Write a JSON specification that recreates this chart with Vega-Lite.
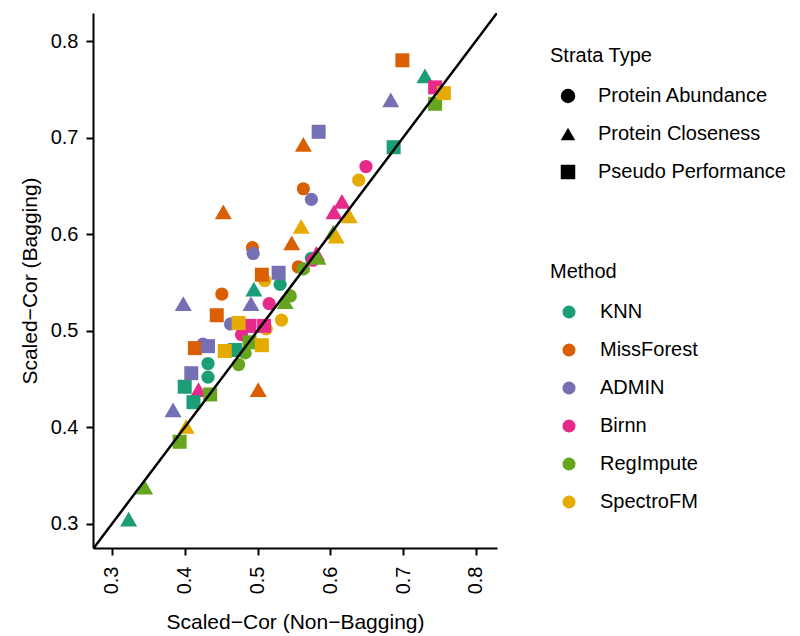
{
  "$schema": "https://vega.github.io/schema/vega-lite/v6.json",
  "width": 404,
  "height": 535,
  "autosize": {"type": "none"},
  "padding": {"left": 93, "top": 13, "right": 303, "bottom": 88},
  "background": "white",
  "config": {
    "font": "Liberation Sans",
    "view": {"stroke": null},
    "axis": {
      "grid": false,
      "domainColor": "black",
      "domainWidth": 2,
      "tickColor": "black",
      "tickWidth": 2,
      "tickSize": 7,
      "labelColor": "black",
      "labelFont": "Liberation Sans",
      "labelFontSize": 20,
      "titleFont": "Liberation Sans",
      "titleFontSize": 21,
      "titleFontWeight": "normal",
      "titleColor": "black"
    },
    "legend": {
      "titleFont": "Liberation Sans",
      "titleFontSize": 20,
      "titleFontWeight": "normal",
      "titleColor": "black",
      "labelFont": "Liberation Sans",
      "labelFontSize": 20,
      "labelColor": "black",
      "labelLimit": 0
    }
  },
  "datasets": {
    "pts": [
      {"method": "KNN", "strata": "Protein Closeness", "x": 0.730, "y": 0.764},
      {"method": "KNN", "strata": "Protein Closeness", "x": 0.495, "y": 0.543},
      {"method": "KNN", "strata": "Protein Closeness", "x": 0.323, "y": 0.305},
      {"method": "KNN", "strata": "Pseudo Performance", "x": 0.687, "y": 0.690},
      {"method": "KNN", "strata": "Pseudo Performance", "x": 0.469, "y": 0.480},
      {"method": "KNN", "strata": "Pseudo Performance", "x": 0.400, "y": 0.442},
      {"method": "KNN", "strata": "Pseudo Performance", "x": 0.412, "y": 0.426},
      {"method": "KNN", "strata": "Protein Abundance", "x": 0.574, "y": 0.575},
      {"method": "KNN", "strata": "Protein Abundance", "x": 0.531, "y": 0.548},
      {"method": "KNN", "strata": "Protein Abundance", "x": 0.432, "y": 0.466},
      {"method": "KNN", "strata": "Protein Abundance", "x": 0.432, "y": 0.452},
      {"method": "MissForest", "strata": "Pseudo Performance", "x": 0.699, "y": 0.780},
      {"method": "MissForest", "strata": "Pseudo Performance", "x": 0.506, "y": 0.558},
      {"method": "MissForest", "strata": "Pseudo Performance", "x": 0.444, "y": 0.516},
      {"method": "MissForest", "strata": "Pseudo Performance", "x": 0.414, "y": 0.482},
      {"method": "MissForest", "strata": "Protein Closeness", "x": 0.563, "y": 0.693},
      {"method": "MissForest", "strata": "Protein Closeness", "x": 0.453, "y": 0.623},
      {"method": "MissForest", "strata": "Protein Closeness", "x": 0.547, "y": 0.591},
      {"method": "MissForest", "strata": "Protein Closeness", "x": 0.501, "y": 0.439},
      {"method": "MissForest", "strata": "Protein Abundance", "x": 0.563, "y": 0.647},
      {"method": "MissForest", "strata": "Protein Abundance", "x": 0.493, "y": 0.586},
      {"method": "MissForest", "strata": "Protein Abundance", "x": 0.556, "y": 0.566},
      {"method": "MissForest", "strata": "Protein Abundance", "x": 0.451, "y": 0.538},
      {"method": "ADMIN", "strata": "Protein Closeness", "x": 0.683, "y": 0.739},
      {"method": "ADMIN", "strata": "Protein Closeness", "x": 0.398, "y": 0.528},
      {"method": "ADMIN", "strata": "Protein Closeness", "x": 0.491, "y": 0.528},
      {"method": "ADMIN", "strata": "Protein Closeness", "x": 0.384, "y": 0.418},
      {"method": "ADMIN", "strata": "Pseudo Performance", "x": 0.584, "y": 0.706},
      {"method": "ADMIN", "strata": "Pseudo Performance", "x": 0.529, "y": 0.560},
      {"method": "ADMIN", "strata": "Pseudo Performance", "x": 0.432, "y": 0.484},
      {"method": "ADMIN", "strata": "Pseudo Performance", "x": 0.409, "y": 0.456},
      {"method": "ADMIN", "strata": "Protein Abundance", "x": 0.574, "y": 0.636},
      {"method": "ADMIN", "strata": "Protein Abundance", "x": 0.494, "y": 0.580},
      {"method": "ADMIN", "strata": "Protein Abundance", "x": 0.463, "y": 0.507},
      {"method": "ADMIN", "strata": "Protein Abundance", "x": 0.425, "y": 0.486},
      {"method": "Birnn", "strata": "Pseudo Performance", "x": 0.744, "y": 0.752},
      {"method": "Birnn", "strata": "Pseudo Performance", "x": 0.489, "y": 0.505},
      {"method": "Birnn", "strata": "Pseudo Performance", "x": 0.509, "y": 0.505},
      {"method": "Birnn", "strata": "Protein Abundance", "x": 0.649, "y": 0.670},
      {"method": "Birnn", "strata": "Protein Abundance", "x": 0.576, "y": 0.573},
      {"method": "Birnn", "strata": "Protein Abundance", "x": 0.516, "y": 0.528},
      {"method": "Birnn", "strata": "Protein Abundance", "x": 0.478, "y": 0.496},
      {"method": "Birnn", "strata": "Protein Closeness", "x": 0.616, "y": 0.634},
      {"method": "Birnn", "strata": "Protein Closeness", "x": 0.605, "y": 0.623},
      {"method": "Birnn", "strata": "Protein Closeness", "x": 0.581, "y": 0.580},
      {"method": "Birnn", "strata": "Protein Closeness", "x": 0.419, "y": 0.439},
      {"method": "RegImpute", "strata": "Pseudo Performance", "x": 0.744, "y": 0.735},
      {"method": "RegImpute", "strata": "Pseudo Performance", "x": 0.489, "y": 0.488},
      {"method": "RegImpute", "strata": "Pseudo Performance", "x": 0.435, "y": 0.434},
      {"method": "RegImpute", "strata": "Pseudo Performance", "x": 0.393, "y": 0.385},
      {"method": "RegImpute", "strata": "Protein Closeness", "x": 0.604, "y": 0.602},
      {"method": "RegImpute", "strata": "Protein Closeness", "x": 0.583, "y": 0.576},
      {"method": "RegImpute", "strata": "Protein Closeness", "x": 0.538, "y": 0.530},
      {"method": "RegImpute", "strata": "Protein Closeness", "x": 0.345, "y": 0.338},
      {"method": "RegImpute", "strata": "Protein Abundance", "x": 0.563, "y": 0.564},
      {"method": "RegImpute", "strata": "Protein Abundance", "x": 0.545, "y": 0.536},
      {"method": "RegImpute", "strata": "Protein Abundance", "x": 0.483, "y": 0.477},
      {"method": "RegImpute", "strata": "Protein Abundance", "x": 0.474, "y": 0.465},
      {"method": "SpectroFM", "strata": "Pseudo Performance", "x": 0.756, "y": 0.746},
      {"method": "SpectroFM", "strata": "Pseudo Performance", "x": 0.474, "y": 0.508},
      {"method": "SpectroFM", "strata": "Pseudo Performance", "x": 0.455, "y": 0.479},
      {"method": "SpectroFM", "strata": "Pseudo Performance", "x": 0.506, "y": 0.485},
      {"method": "SpectroFM", "strata": "Protein Abundance", "x": 0.639, "y": 0.656},
      {"method": "SpectroFM", "strata": "Protein Abundance", "x": 0.510, "y": 0.552},
      {"method": "SpectroFM", "strata": "Protein Abundance", "x": 0.533, "y": 0.511},
      {"method": "SpectroFM", "strata": "Protein Abundance", "x": 0.512, "y": 0.502},
      {"method": "SpectroFM", "strata": "Protein Closeness", "x": 0.626, "y": 0.619},
      {"method": "SpectroFM", "strata": "Protein Closeness", "x": 0.560, "y": 0.608},
      {"method": "SpectroFM", "strata": "Protein Closeness", "x": 0.608, "y": 0.598},
      {"method": "SpectroFM", "strata": "Protein Closeness", "x": 0.402, "y": 0.401}
    ],
    "diag": [
      {"x": 0.27, "y": 0.27},
      {"x": 0.84, "y": 0.84}
    ]
  },
  "encoding": {
    "x": {
      "field": "x", "type": "quantitative",
      "scale": {"domain": [0.274, 0.829], "nice": false, "zero": false},
      "axis": {
        "title": "Scaled−Cor (Non−Bagging)",
        "values": [0.3, 0.4, 0.5, 0.6, 0.7, 0.8],
        "format": ".1f",
        "labelAngle": -90,
        "labelAlign": "right",
        "labelBaseline": "middle",
        "labelPadding": 11,
        "titlePadding": 18
      }
    },
    "y": {
      "field": "y", "type": "quantitative",
      "scale": {"domain": [0.275, 0.829], "nice": false, "zero": false},
      "axis": {
        "title": "Scaled−Cor (Bagging)",
        "values": [0.3, 0.4, 0.5, 0.6, 0.7, 0.8],
        "format": ".1f",
        "labelPadding": 8,
        "titlePadding": 10
      }
    }
  },
  "layer": [
    {
      "data": {"name": "pts"},
      "transform": [{"filter": "datum.strata === 'Protein Abundance'"}],
      "mark": {"type": "point", "filled": true, "opacity": 1, "strokeWidth": 0, "size": 175},
      "encoding": {
        "color": {
          "field": "method", "type": "nominal",
          "scale": {
            "domain": ["KNN", "MissForest", "ADMIN", "Birnn", "RegImpute", "SpectroFM"],
            "range": ["#1B9E77", "#D95F02", "#7570B3", "#E7298A", "#66A61E", "#E6AB02"]
          },
          "legend": {
            "title": "Method",
            "orient": "none",
            "legendX": 457,
            "legendY": 249,
            "symbolType": "circle",
            "symbolSize": 170,
            "symbolStrokeWidth": 0,
            "symbolOffset": 9,
            "labelOffset": 21,
            "titlePadding": 20,
            "rowPadding": 18
          }
        },
        "shape": {
          "field": "strata", "type": "nominal",
          "scale": {
            "domain": ["Protein Abundance", "Protein Closeness", "Pseudo Performance"],
            "range": ["circle", "triangle-up", "square"]
          },
          "legend": {
            "title": "Strata Type",
            "orient": "none",
            "legendX": 457,
            "legendY": 33,
            "symbolSize": 210,
            "symbolFillColor": "black",
            "symbolStrokeWidth": 0,
            "symbolOffset": 8,
            "labelOffset": 20,
            "titlePadding": 20,
            "rowPadding": 18
          }
        }
      }
    },
    {
      "data": {"name": "pts"},
      "transform": [{"filter": "datum.strata === 'Protein Closeness'"}],
      "mark": {"type": "point", "filled": true, "opacity": 1, "strokeWidth": 0, "size": 290},
      "encoding": {
        "color": {"field": "method", "type": "nominal"},
        "shape": {"field": "strata", "type": "nominal"}
      }
    },
    {
      "data": {"name": "pts"},
      "transform": [{"filter": "datum.strata === 'Pseudo Performance'"}],
      "mark": {"type": "point", "filled": true, "opacity": 1, "strokeWidth": 0, "size": 196},
      "encoding": {
        "color": {"field": "method", "type": "nominal"},
        "shape": {"field": "strata", "type": "nominal"}
      }
    },
    {
      "data": {"name": "diag"},
      "mark": {"type": "line", "color": "black", "strokeWidth": 2.5, "clip": true},
      "encoding": {}
    }
  ]
}
